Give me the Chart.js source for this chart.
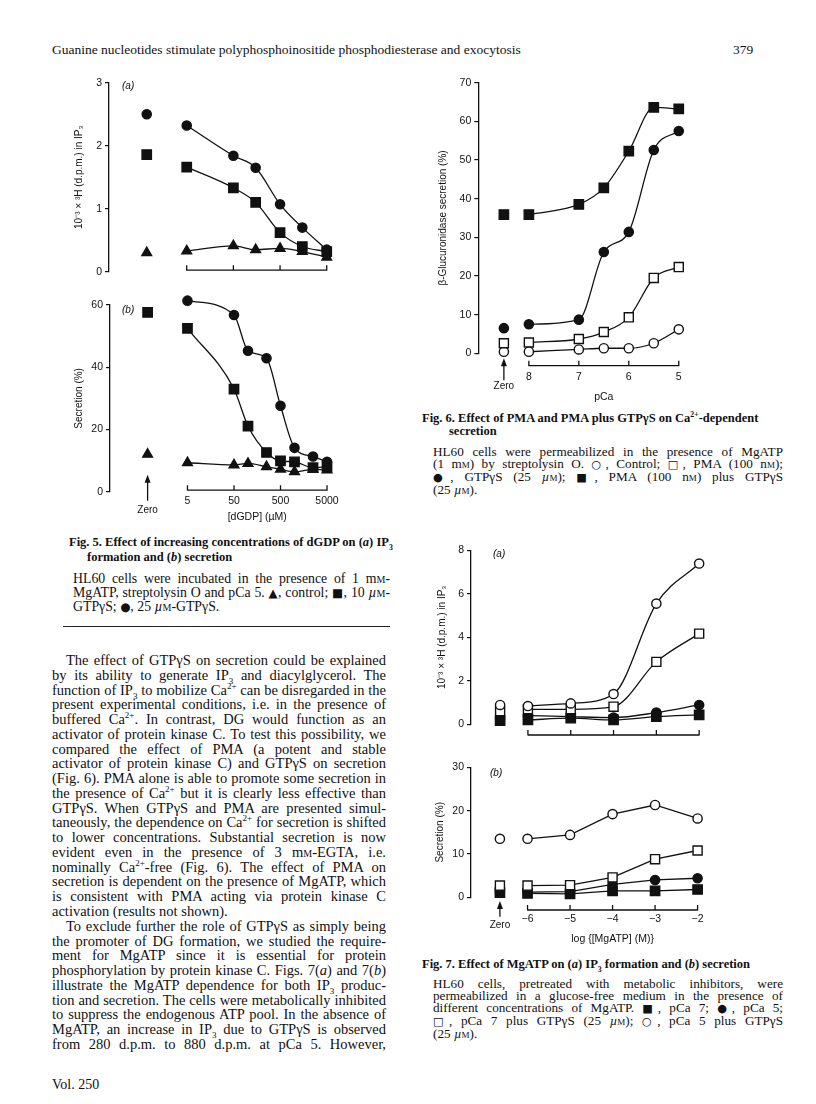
<!DOCTYPE html>
<html>
<head>
<meta charset="utf-8">
<script src="https://cdn.jsdelivr.net/npm/chart.js@4.4.0/dist/chart.umd.min.js"></script>
<style>
  body { margin: 0; width: 816px; height: 1104px; position: relative; background: #fff; color: #111;
         font-family: "Liberation Serif", "Times New Roman", serif; overflow: hidden; }
  canvas { position: absolute; }
  .blk { position: absolute; }
  .ln { display: block; text-align: justify; text-align-last: justify; }
  .ln.end { text-align-last: left; }
  .ind { text-indent: 14px; }
  sub, sup { font-size: 0.62em; line-height: 0; }
  .sc { font-variant: small-caps; }
  .sym { font-family: "DejaVu Sans", sans-serif; font-size: 0.85em; }
  .body { left: 52px; top: 653px; width: 334px; font-size: 14.5px; line-height: 14.77px; }
  .cap { font-size: 13.2px; }
  .head { font-weight: bold; font-size: 12.5px; white-space: nowrap; }
</style>
</head>
<body>

<div class="blk" style="left:52px; top:42px; font-size:13.5px; white-space:nowrap;">Guanine nucleotides stimulate polyphosphoinositide phosphodiesterase and exocytosis</div>
<div class="blk" style="left:733px; top:42px; font-size:13.5px;">379</div>

<canvas id="fig5a"></canvas>
<canvas id="fig5b"></canvas>
<canvas id="fig6"></canvas>
<canvas id="fig7a"></canvas>
<canvas id="fig7b"></canvas>

<!-- Fig. 5 caption -->
<div class="blk head" style="left:69px; top:535px;">Fig. 5. Effect of increasing concentrations of dGDP on (<i>a</i>) IP<sub>3</sub></div>
<div class="blk head" style="left:87px; top:550px;">formation and (<i>b</i>) secretion</div>
<div class="blk cap" style="left:73px; top:572px; width:317px; line-height:13.7px; font-size:13.8px;">
  <span class="ln">HL60 cells were incubated in the presence of 1 m<span class="sc">m</span>-</span>
  <span class="ln">MgATP, streptolysin O and pCa 5. <span class="sym">▲</span>, control; <span class="sym">■</span>, 10 <i>µ</i><span class="sc">m</span>-</span>
  <span class="ln end">GTPγS; <span class="sym">●</span>, 25 <i>µ</i><span class="sc">m</span>-GTPγS.</span>
</div>
<div class="blk" style="left:63px; top:626px; width:327px; height:1px; background:#222;"></div>

<!-- body text -->
<div class="blk body">
  <span class="ln ind">The effect of GTPγS on secretion could be explained</span>
  <span class="ln">by its ability to generate IP<sub>3</sub> and diacylglycerol. The</span>
  <span class="ln">function of IP<sub>3</sub> to mobilize Ca<sup>2+</sup> can be disregarded in the</span>
  <span class="ln">present experimental conditions, i.e. in the presence of</span>
  <span class="ln">buffered Ca<sup>2+</sup>. In contrast, DG would function as an</span>
  <span class="ln">activator of protein kinase C. To test this possibility, we</span>
  <span class="ln">compared the effect of PMA (a potent and stable</span>
  <span class="ln">activator of protein kinase C) and GTPγS on secretion</span>
  <span class="ln">(Fig. 6). PMA alone is able to promote some secretion in</span>
  <span class="ln">the presence of Ca<sup>2+</sup> but it is clearly less effective than</span>
  <span class="ln">GTPγS. When GTPγS and PMA are presented simul-</span>
  <span class="ln">taneously, the dependence on Ca<sup>2+</sup> for secretion is shifted</span>
  <span class="ln">to lower concentrations. Substantial secretion is now</span>
  <span class="ln">evident even in the presence of 3 m<span class="sc">m</span>-EGTA, i.e.</span>
  <span class="ln">nominally Ca<sup>2+</sup>-free (Fig. 6). The effect of PMA on</span>
  <span class="ln">secretion is dependent on the presence of MgATP, which</span>
  <span class="ln">is consistent with PMA acting via protein kinase C</span>
  <span class="ln end">activation (results not shown).</span>
  <span class="ln ind">To exclude further the role of GTPγS as simply being</span>
  <span class="ln">the promoter of DG formation, we studied the require-</span>
  <span class="ln">ment for MgATP since it is essential for protein</span>
  <span class="ln">phosphorylation by protein kinase C. Figs. 7(<i>a</i>) and 7(<i>b</i>)</span>
  <span class="ln">illustrate the MgATP dependence for both IP<sub>3</sub> produc-</span>
  <span class="ln">tion and secretion. The cells were metabolically inhibited</span>
  <span class="ln">to suppress the endogenous ATP pool. In the absence of</span>
  <span class="ln">MgATP, an increase in IP<sub>3</sub> due to GTPγS is observed</span>
  <span class="ln">from 280 d.p.m. to 880 d.p.m. at pCa 5. However,</span>
</div>

<div class="blk" style="left:52px; top:1077px; font-size:14px;">Vol. 250</div>

<!-- Fig. 6 caption -->
<div class="blk head" style="left:422px; top:411px;">Fig. 6. Effect of PMA and PMA plus GTPγS on Ca<sup>2+</sup>-dependent</div>
<div class="blk head" style="left:449px; top:424px;">secretion</div>
<div class="blk cap" style="left:433px; top:446px; width:350px; line-height:12.1px;">
  <span class="ln">HL60 cells were permeabilized in the presence of MgATP</span>
  <span class="ln">(1 m<span class="sc">m</span>) by streptolysin O. <span class="sym">○</span>, Control; <span class="sym">□</span>, PMA (100 n<span class="sc">m</span>);</span>
  <span class="ln"><span class="sym">●</span>, GTPγS (25 <i>µ</i><span class="sc">m</span>); <span class="sym">■</span>, PMA (100 n<span class="sc">m</span>) plus GTPγS</span>
  <span class="ln end">(25 <i>µ</i><span class="sc">m</span>).</span>
</div>

<!-- Fig. 7 caption -->
<div class="blk head" style="left:422px; top:957px;">Fig. 7. Effect of MgATP on (<i>a</i>) IP<sub>3</sub> formation and (<i>b</i>) secretion</div>
<div class="blk cap" style="left:433px; top:978px; width:350px; line-height:12.1px;">
  <span class="ln">HL60 cells, pretreated with metabolic inhibitors, were</span>
  <span class="ln">permeabilized in a glucose-free medium in the presence of</span>
  <span class="ln">different concentrations of MgATP. <span class="sym">■</span>, pCa 7; <span class="sym">●</span>, pCa 5;</span>
  <span class="ln"><span class="sym">□</span>, pCa 7 plus GTPγS (25 <i>µ</i><span class="sc">m</span>); <span class="sym">○</span>, pCa 5 plus GTPγS</span>
  <span class="ln end">(25 <i>µ</i><span class="sc">m</span>).</span>
</div>

<script>
// ---- Fig. 5: dGDP (µM) ----
const dgdpTicks = [5, 50, 500, 5000];
const dgdpTickLabels = ['5', '50', '500', '5000'];
const fig5aConc = [5, 50, 150, 500, 1500, 5000];
const fig5aGtp25 = [2.32, 1.84, 1.65, 1.07, 0.70, 0.35];
const fig5aGtp10 = [1.66, 1.33, 1.10, 0.62, 0.40, 0.32];
const fig5aControl = [0.33, 0.41, 0.35, 0.37, 0.32, 0.23];
const fig5aNoDgdp = [2.50, 1.86, 0.30];          // 25 µM GTPγS, 10 µM GTPγS, control

const fig5bConc = [5, 50, 100, 250, 500, 1000, 2500, 5000];
const fig5bGtp25 = [61.4, 56.8, 45.3, 42.9, 27.6, 14.1, 11.3, 9.6];
const fig5bGtp10 = [52.5, 33.0, 21.1, 12.6, 9.9, 9.6, 7.7, 8.0];
const fig5bControl = [9.3, 8.6, 9.1, 8.0, 7.2, 6.4, 7.2, 7.0];
const fig5bNoDgdp = [62.0, 57.6, 12.0];

// ---- Fig. 6: pCa ----
const pCaTicks = [8, 7, 6, 5];
const pCaTickLabels = ['8', '7', '6', '5'];
const pCaValues = [8, 7, 6.5, 6, 5.5, 5];
const fig6Control = [0.4, 1.0, 1.3, 1.3, 2.6, 6.2];
const fig6Pma = [2.8, 3.7, 5.5, 9.3, 19.5, 22.3];
const fig6Gtp = [7.5, 8.7, 26.2, 31.4, 52.6, 57.5];
const fig6PmaGtp = [35.9, 38.5, 42.8, 52.3, 63.6, 63.2];
const fig6NoCa = [0.4, 2.6, 6.5, 35.9];           // control, PMA, GTPγS, PMA + GTPγS

// ---- Fig. 7: log [MgATP] (M) ----
const mgAtpTicks = [-6, -5, -4, -3, -2];
const mgAtpTickLabels = ['\u22126', '\u22125', '\u22124', '\u22123', '\u22122'];
const logMgAtp = [-6, -5, -4, -3, -2];
const fig7aPCa7 = [0.20, 0.28, 0.20, 0.35, 0.43];
const fig7aPCa5 = [0.40, 0.35, 0.31, 0.54, 0.89];
const fig7aPCa7Gtp = [0.69, 0.69, 0.81, 2.87, 4.17];
const fig7aPCa5Gtp = [0.84, 0.96, 1.39, 5.55, 7.39];
const fig7aNoAtp = [0.17, 0.28, 0.60, 0.89];      // pCa 7, pCa 5, pCa 7 + GTPγS, pCa 5 + GTPγS
const fig7bPCa7 = [0.9, 0.8, 1.5, 1.5, 1.8];
const fig7bPCa5 = [1.2, 1.3, 3.0, 4.0, 4.4];
const fig7bPCa7Gtp = [2.7, 2.8, 4.6, 8.8, 10.8];
const fig7bPCa5Gtp = [13.5, 14.4, 19.2, 21.3, 18.2];
const fig7bNoAtp = [1.1, 1.3, 2.7, 13.5];

const SANS = '"Liberation Sans", Arial, sans-serif';
const INK = '#111';

const markers = {
  fc: { style: 'circle', r: 4.6, fill: INK },
  oc: { style: 'circle', r: 4.6, fill: '#fff' },
  fs: { style: 'rect', r: 6.6, fill: INK },
  os: { style: 'rect', r: 6.4, fill: '#fff' },
  tr: { style: 'triangle', r: 5.6, fill: INK }
};

function series(xs, ys, mk, curve) {
  const m = markers[mk];
  return {
    data: xs.map((x, i) => ({ x: x, y: ys[i] })),
    borderColor: INK, borderWidth: 1.3,
    cubicInterpolationMode: curve === false ? 'default' : 'monotone',
    tension: curve === false ? 0 : 0.4,
    pointStyle: m.style, pointRadius: m.r, pointBackgroundColor: m.fill,
    pointBorderColor: INK, pointBorderWidth: 1.4, clip: false
  };
}

// points plotted at the "Zero" position, one marker per treatment
function zeroPoints(xPos, ys, mks) {
  return {
    data: ys.map(y => ({ x: xPos, y: y })),
    showLine: false,
    pointStyle: mks.map(k => markers[k].style),
    pointRadius: mks.map(k => markers[k].r),
    pointBackgroundColor: mks.map(k => markers[k].fill),
    pointBorderColor: INK, pointBorderWidth: 1.4, clip: false
  };
}

// journal style x axis (bracket with upward ticks), zero arrow, titles
const paperAxes = {
  id: 'paperAxes',
  afterDraw(chart, args, o) {
    const { ctx, chartArea } = chart;
    const xs = chart.scales.x;
    const vals = xs.ticks.map(t => t.value);
    ctx.save();
    ctx.strokeStyle = INK; ctx.fillStyle = INK; ctx.lineWidth = 1.3;
    const yb = chartArea.bottom + o.bracket;
    const x0 = xs.getPixelForValue(vals[0]);
    const x1 = xs.getPixelForValue(vals[vals.length - 1]);
    ctx.beginPath();
    ctx.moveTo(x0, yb); ctx.lineTo(x1, yb);
    vals.forEach(v => {
      const px = xs.getPixelForValue(v);
      ctx.moveTo(px, yb + 0.6); ctx.lineTo(px, yb - 5);
    });
    ctx.stroke();
    ctx.textAlign = 'center'; ctx.textBaseline = 'middle';
    if (o.arrow) {
      const ax = xs.getPixelForValue(o.zeroAt);
      const top = chartArea.bottom + o.arrow[0];
      const bot = chartArea.bottom + o.arrow[1];
      ctx.beginPath(); ctx.moveTo(ax, top + 5); ctx.lineTo(ax, bot); ctx.stroke();
      ctx.beginPath(); ctx.moveTo(ax, top); ctx.lineTo(ax - 3, top + 8); ctx.lineTo(ax + 3, top + 8);
      ctx.closePath(); ctx.fill();
      ctx.font = '10px ' + SANS;
      ctx.fillText('Zero', ax, chartArea.bottom + o.zeroLabel);
    }
    if (o.xTitle) {
      ctx.font = '10.5px ' + SANS;
      ctx.fillText(o.xTitle, (x0 + x1) / 2, chartArea.bottom + o.xTitleAt);
    }
    if (o.panel) {
      ctx.font = 'italic 10px ' + SANS;
      ctx.textAlign = 'left';
      ctx.fillText(o.panel, chartArea.left + o.panelAt[0], chartArea.top + o.panelAt[1]);
    }
    ctx.restore();
  }
};

function panel(id, box, area, xOpt, yOpt, datasets, deco) {
  const cv = document.getElementById(id);
  cv.style.left = box.left + 'px';
  cv.style.top = box.top + 'px';
  cv.width = box.width;
  cv.height = box.height;
  new Chart(cv, {
    type: 'line',
    data: { datasets: datasets },
    options: {
      responsive: false, animation: false, devicePixelRatio: 1,
      layout: { padding: { top: area.top - box.top, right: box.left + box.width - area.right, left: 0, bottom: 0 } },
      plugins: { legend: { display: false }, tooltip: { enabled: false }, paperAxes: deco },
      scales: {
        x: {
          type: xOpt.type, min: xOpt.min, max: xOpt.max, reverse: !!xOpt.reverse,
          afterBuildTicks: s => { s.ticks = xOpt.ticks.map(v => ({ value: v })); },
          afterFit: s => { s.height = box.top + box.height - area.bottom; },
          ticks: {
            display: xOpt.labels != null, autoSkip: false, maxRotation: 0,
            padding: xOpt.pad || 0, color: INK, font: { family: SANS, size: 10.5 },
            callback: (v, i) => xOpt.labels ? xOpt.labels[i] : ''
          },
          grid: { display: false, drawTicks: false },
          border: { display: false }
        },
        y: {
          min: yOpt.min, max: yOpt.max,
          afterFit: s => { s.width = area.left - box.left; },
          ticks: { stepSize: yOpt.step, padding: 3, color: INK, font: { family: SANS, size: 10.5 } },
          grid: { display: true, drawOnChartArea: false, drawTicks: true, tickLength: 4, color: INK, lineWidth: 1.2 },
          border: { display: true, color: INK, width: 1.3 },
          title: { display: true, text: yOpt.title, color: INK, font: { family: SANS, size: 10 }, padding: { top: 4, bottom: 0 } }
        }
      }
    },
    plugins: [paperAxes]
  });
}

// Fig. 5(a)
const f5Zero = 0.695;
panel('fig5a', { left: 69, top: 70, width: 276, height: 215 }, { left: 109, top: 82.7, right: 336, bottom: 271.7 },
  { type: 'logarithmic', min: 0.108, max: 7900, ticks: dgdpTicks, labels: null },
  { min: 0, max: 3, step: 1, title: '10\u207B\u00B3 \u00D7 \u00B3H (d.p.m.) in IP\u2083' },
  [
    series(fig5aConc, fig5aGtp25, 'fc'),
    series(fig5aConc, fig5aGtp10, 'fs'),
    series(fig5aConc, fig5aControl, 'tr'),
    zeroPoints(f5Zero, fig5aNoDgdp, ['fc', 'fs', 'tr'])
  ],
  { bracket: -1.5, panel: '(a)', panelAt: [13, 4] });

// Fig. 5(b)
panel('fig5b', { left: 69, top: 288, width: 276, height: 240 }, { left: 110, top: 305, right: 336, bottom: 491.7 },
  { type: 'logarithmic', min: 0.108, max: 7800, ticks: dgdpTicks, labels: dgdpTickLabels, pad: 3 },
  { min: 0, max: 60, step: 20, title: 'Secretion (%)' },
  [
    series(fig5bConc, fig5bGtp25, 'fc'),
    series(fig5bConc, fig5bGtp10, 'fs'),
    series(fig5bConc, fig5bControl, 'tr'),
    zeroPoints(f5Zero, fig5bNoDgdp, ['fc', 'fs', 'tr'])
  ],
  { bracket: -1.5, zeroAt: f5Zero, arrow: [-17, 9], zeroLabel: 18.5, xTitle: '[dGDP] (\u00B5M)', xTitleAt: 25.6,
    panel: '(b)', panelAt: [12, 5] });

// Fig. 6
const f6Zero = 8.5;
panel('fig6', { left: 433, top: 72, width: 267, height: 335 }, { left: 478.3, top: 82.7, right: 692, bottom: 353.3 },
  { type: 'linear', min: 4.83, max: 9.012, reverse: true, ticks: pCaTicks, labels: pCaTickLabels, pad: 18 },
  { min: 0, max: 70, step: 10, title: '\u03B2-Glucuronidase secretion (%)' },
  [
    series(pCaValues, fig6Control, 'oc'),
    series(pCaValues, fig6Pma, 'os'),
    series(pCaValues, fig6Gtp, 'fc'),
    series(pCaValues, fig6PmaGtp, 'fs'),
    zeroPoints(f6Zero, fig6NoCa, ['oc', 'os', 'fc', 'fs'])
  ],
  { bracket: 12.4, zeroAt: f6Zero, arrow: [5, 27], zeroLabel: 33.4, xTitle: 'pCa', xTitleAt: 43.7 });

// Fig. 7(a)
const f7Zero = -6.65;
panel('fig7a', { left: 432, top: 540, width: 288, height: 205 }, { left: 471, top: 550.3, right: 712, bottom: 724.3 },
  { type: 'linear', min: -7.33, max: -1.70, ticks: mgAtpTicks, labels: null },
  { min: 0, max: 8, step: 2, title: '10\u207B\u00B3 \u00D7 \u00B3H (d.p.m.) in IP\u2083' },
  [
    series(logMgAtp, fig7aPCa5Gtp, 'oc'),
    series(logMgAtp, fig7aPCa7Gtp, 'os'),
    series(logMgAtp, fig7aPCa5, 'fc'),
    series(logMgAtp, fig7aPCa7, 'fs'),
    zeroPoints(f7Zero, fig7aNoAtp, ['fs', 'fc', 'os', 'oc'])
  ],
  { bracket: 10.7, panel: '(a)', panelAt: [22, 4] });

// Fig. 7(b)
panel('fig7b', { left: 430, top: 757, width: 290, height: 192 }, { left: 471, top: 767.3, right: 712, bottom: 897.3 },
  { type: 'linear', min: -7.33, max: -1.70, ticks: mgAtpTicks, labels: mgAtpTickLabels, pad: 16 },
  { min: 0, max: 30, step: 10, title: 'Secretion (%)' },
  [
    series(logMgAtp, fig7bPCa5Gtp, 'oc', false),
    series(logMgAtp, fig7bPCa7Gtp, 'os', false),
    series(logMgAtp, fig7bPCa5, 'fc', false),
    series(logMgAtp, fig7bPCa7, 'fs', false),
    zeroPoints(f7Zero, fig7bNoAtp, ['fs', 'fc', 'os', 'oc'])
  ],
  { bracket: 12.7, zeroAt: f7Zero, arrow: [3.7, 19.4], zeroLabel: 27.7, xTitle: 'log {[MgATP] (M)}', xTitleAt: 41.7,
    panel: '(b)', panelAt: [19, 6] });
</script>
</body>
</html>
